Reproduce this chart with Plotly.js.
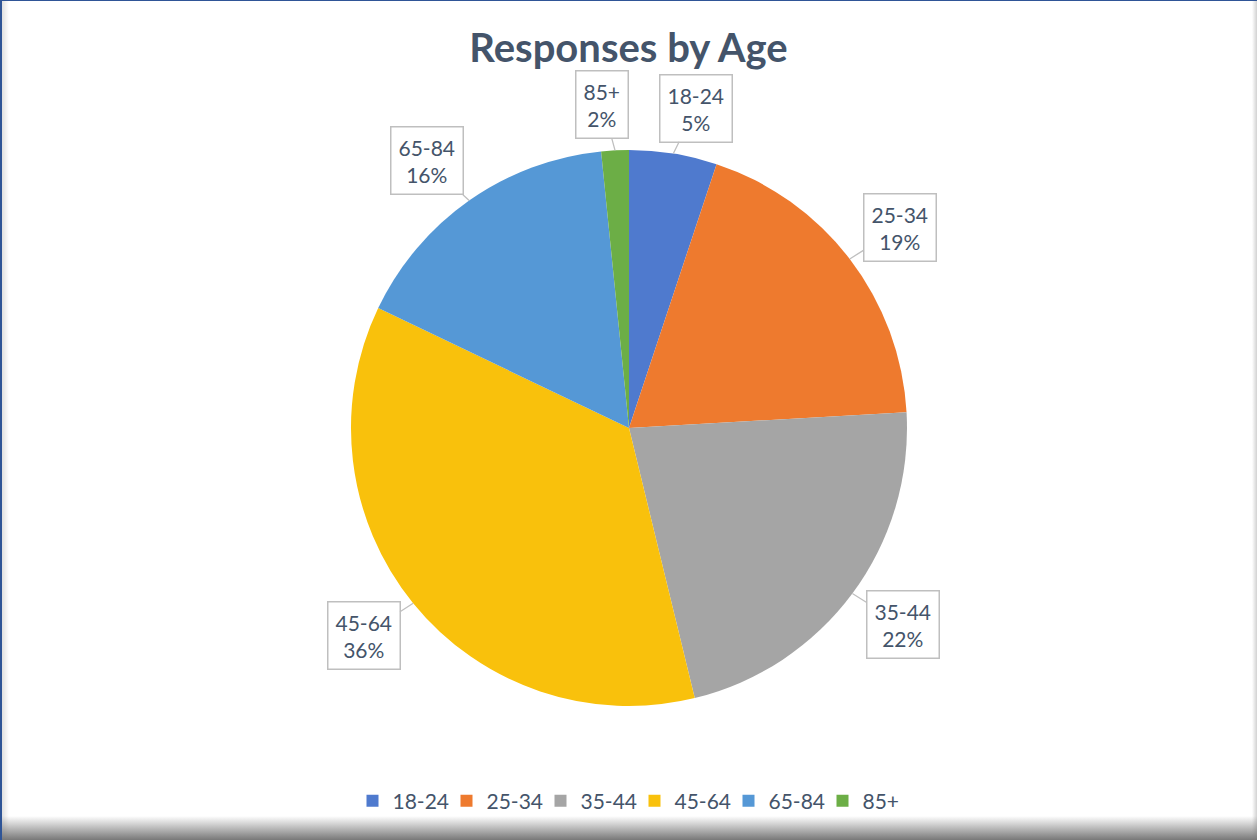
<!DOCTYPE html>
<html>
<head>
<meta charset="utf-8">
<script src="https://cdn.plot.ly/plotly-3.0.1.min.js"></script>
<style>
  html, body { margin: 0; padding: 0; background: #ffffff; }
  #chart {
    width: 1257px; height: 840px; position: relative;
    background:
      linear-gradient(to bottom, rgba(255,255,255,0) calc(100% - 24px), rgba(120,120,120,1) 100%),
      linear-gradient(to right, rgba(0,0,0,0.12) 2px, rgba(0,0,0,0) 9px),
      linear-gradient(to left, rgba(0,0,0,0.18) 0px, rgba(0,0,0,0) 5px),
      #ffffff;
    box-shadow: inset 2px 1px 0 #2F5597;
  }
</style>
</head>
<body>
<div id="chart"></div>
<script>
// ---- data ----
const categories = ['18-24', '25-34', '35-44', '45-64', '65-84', '85+'];
const shares = [5.1, 19.0, 22.1, 35.9, 16.3, 1.6];
const colors = ['#4F7ACE', '#EE7A2E', '#A5A5A5', '#F9C10C', '#5598D6', '#6CAE46'];

// ---- layout constants ----
const W = 1257, H = 840;
const cx = 629, cy = 428, R = 278;
const textColor = '#44546A';
const fontFam = 'Lato, "Open Sans", sans-serif';

const trace = {
  type: 'pie',
  labels: categories,
  values: shares,
  sort: false,
  direction: 'clockwise',
  rotation: 0,
  textinfo: 'none',
  hoverinfo: 'none',
  marker: { colors: colors, line: { color: '#ffffff', width: 0 } },
  domain: { x: [(cx - R) / W, (cx + R) / W], y: [1 - (cy + R) / H, 1 - (cy - R) / H] },
  showlegend: true
};

// callout labels computed from the data
const total = shares.reduce((a, b) => a + b, 0);
let cum = 0;
const annotations = shares.map((v, i) => {
  const mid = (cum + v / 2) / total * 2 * Math.PI;
  cum += v;
  const sx = Math.sin(mid), cyv = Math.cos(mid);
  return {
    xref: 'paper', yref: 'paper',
    x: (cx + R * sx) / W,
    y: 1 - (cy - R * cyv) / H,
    text: categories[i] + '<br>' + Math.round(v / total * 100) + '%',
    showarrow: true, arrowhead: 0, arrowwidth: 1.3, arrowcolor: '#BFBFBF',
    ax: 56 * Math.sign(sx) * Math.sqrt(Math.abs(sx)),
    ay: -46 * Math.sign(cyv) * Math.pow(Math.abs(cyv), 0.75),
    bgcolor: '#ffffff', bordercolor: '#BFBFBF', borderwidth: 1.5, borderpad: 7,
    font: { family: fontFam, size: 21, color: textColor },
    align: 'center'
  };
});

const layout = {
  width: W, height: H,
  margin: { l: 0, r: 0, t: 0, b: 0 },
  paper_bgcolor: 'rgba(0,0,0,0)',
  plot_bgcolor: 'rgba(0,0,0,0)',
  title: {
    text: 'Responses by Age',
    font: { family: fontFam, size: 40, color: textColor, weight: 'bold' },
    x: 0.5, xanchor: 'center', y: 1 - 48 / H, yanchor: 'middle', xref: 'paper', yref: 'container'
  },
  legend: {
    orientation: 'h', x: 0.5 + 6 / W, xanchor: 'center', y: 1 - 801 / H, yanchor: 'middle',
    font: { family: fontFam, size: 21, color: textColor },
    entrywidth: 49, entrywidthmode: 'pixels',
    traceorder: 'normal'
  },
  annotations: annotations
};

Plotly.newPlot('chart', [trace], layout, { displayModeBar: false, staticPlot: true });
</script>
</body>
</html>
